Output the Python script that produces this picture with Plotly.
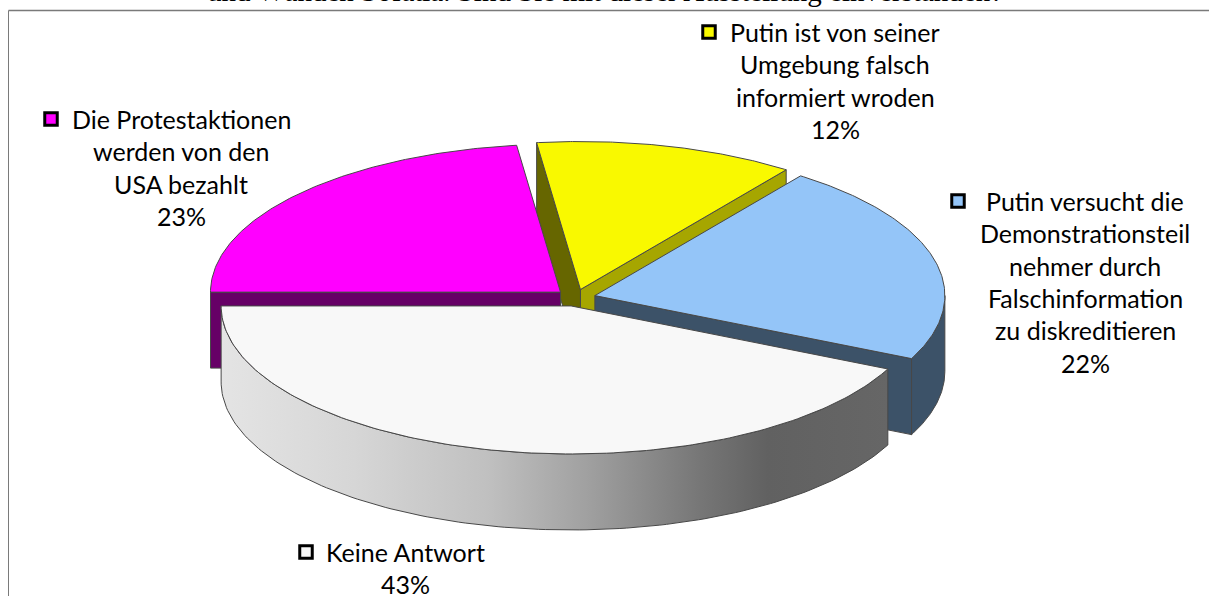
import numpy as np
import plotly.graph_objects as go

# --- data ---
categories = ["Keine Antwort", "Putin versucht die Demonstrationsteilnehmer durch Falschinformation zu diskreditieren",
              "Putin ist von seiner Umgebung falsch informiert wroden", "Die Protestaktionen werden von den USA bezahlt"]
values = [43, 22, 12, 23]
label_lines = [
    ["Keine Antwort", "43%"],
    ["Putin versucht die", "Demonstrationsteil", "nehmer durch", "Falschinformation", "zu diskreditieren", "22%"],
    ["Putin ist von seiner", "Umgebung falsch", "informiert wroden", "12%"],
    ["Die Protestaktionen", "werden von den", "USA bezahlt", "23%"],
]
title_text = "und Wänden Sofatia. Sind Sie mit dieser Ausstellung einverstanden?"

# --- styles / geometry ---
top_colors = ["#f8f8f8", "#94c5f8", "#f9f900", "#ff00ff"]
side_colors = [None, "#3c5268", "#a6a600", "#660066"]
outer_colors = [None, "#3c5268", "#666600", "#660066"]
CX, CY, RX, RY, DEPTH, EXPLODE = 575.5, 297.7, 350, 148, 76, 20
START = 180.0
label_x = [405, 1085, 835, 181]
label_y = [552, 201, 32, 119]
key_x = [306, 958, 709, 51]
key_y = [552, 201, 32, 119]
PITCH = 32.3
FONT = "Lato"
FONT_SIZE = 25
EDGE = "#484848"

fig = go.Figure()


def poly(xs, ys, color, lw=1.0, line=EDGE, grad=None):
    kw = {"fillgradient": grad} if grad else {"fillcolor": color}
    fig.add_trace(go.Scatter(x=list(xs) + [xs[0]], y=list(ys) + [ys[0]], mode="lines", fill="toself",
                             line=dict(color=line, width=lw), hoverinfo="skip", showlegend=False, **kw))


# angles for each slice
cum = START + 3.6 * np.concatenate([[0], np.cumsum(values)])
slices = []
for i in range(len(values)):
    a0, a1 = cum[i], cum[i + 1]
    mid = np.radians((a0 + a1) / 2)
    cx = CX + EXPLODE * np.cos(mid)
    cy = CY - EXPLODE * RY / RX * np.sin(mid)
    slices.append((a0, a1, cx, cy))


def pt(cx, cy, deg):
    t = np.radians(deg)
    return cx + RX * np.cos(t), cy - RY * np.sin(t)


def arc(cx, cy, a0, a1):
    t = np.radians(np.linspace(a0, a1, 140))
    return cx + RX * np.cos(t), cy - RY * np.sin(t)


def cut(i, deg):
    a0, a1, cx, cy = slices[i]
    ex, ey = pt(cx, cy, deg)
    return [cx, ex, ex, cx], [cy, ey, ey + DEPTH, cy + DEPTH]


def top(i):
    a0, a1, cx, cy = slices[i]
    ax, ay = arc(cx, cy, a0, a1)
    poly([cx] + list(ax), [cy] + list(ay), top_colors[i])


def outer(i, a0, a1, color, grad=None):
    _, _, cx, cy = slices[i]
    ax, ay = arc(cx, cy, a0, a1)
    poly(list(ax) + list(ax[::-1]), list(ay) + list((ay + DEPTH)[::-1]), color, grad=grad)


# yellow: both cut faces, then top
y0, y1 = slices[2][0], slices[2][1]
x_, y_ = cut(2, y1)
poly(x_, y_, outer_colors[2])
x_, y_ = cut(2, y0)
poly(x_, y_, side_colors[2])
top(2)

# magenta: flat cut face at the left, then top
x_, y_ = cut(3, slices[3][1])
poly(x_, y_, side_colors[3])
top(3)

# blue: cut face and rim, then top
x_, y_ = cut(1, slices[1][0])
poly(x_, y_, side_colors[1])
outer(1, slices[1][0], 360, side_colors[1])
top(1)

# white: rim with gradient, then top
outer(0, slices[0][0], slices[0][1], "#aaaaaa", grad=dict(
    type="horizontal",
    colorscale=[[0, "#e4e4e4"], [0.2, "#d6d6d6"], [0.4, "#c0c0c0"], [0.55, "#a0a0a0"],
                [0.72, "#767676"], [0.82, "#616161"], [1, "#666666"]]))
top(0)

# legend keys
for i in range(len(values)):
    fig.add_trace(go.Scatter(x=[key_x[i]], y=[key_y[i]], mode="markers", hoverinfo="skip", showlegend=False,
                             marker=dict(symbol="square", size=12.5, color=top_colors[i],
                                         line=dict(color="black", width=3))))

ann = []
for i, lines in enumerate(label_lines):
    for j, txt in enumerate(lines):
        ann.append(dict(x=label_x[i], y=label_y[i] + j * PITCH, text=txt, showarrow=False, xanchor="center",
                        yanchor="middle", font=dict(family=FONT, size=FONT_SIZE, color="black")))
ann.append(dict(x=1005, y=2, text=title_text, showarrow=False, xanchor="right", yanchor="bottom", yshift=-7,
                font=dict(family="Liberation Serif", size=29, color="black")))

fig.update_layout(
    width=1209, height=596, margin=dict(l=0, r=0, t=0, b=0), showlegend=False,
    paper_bgcolor="white", plot_bgcolor="white",
    xaxis=dict(range=[0, 1209], visible=False, fixedrange=True),
    yaxis=dict(range=[596, 0], visible=False, fixedrange=True),
    annotations=ann,
    shapes=[
        dict(type="line", xref="x", yref="y", x0=8.5, x1=1209, y0=10.5, y1=10.5, line=dict(color="#7a7a7a", width=1.5)),
        dict(type="line", xref="x", yref="y", x0=8.5, x1=8.5, y0=10.5, y1=596, line=dict(color="#7a7a7a", width=1)),
    ],
)
fig.write_html("out.html", config=dict(displayModeBar=False),
               post_script="document.body.style.margin='0';document.body.style.overflow='hidden';")
